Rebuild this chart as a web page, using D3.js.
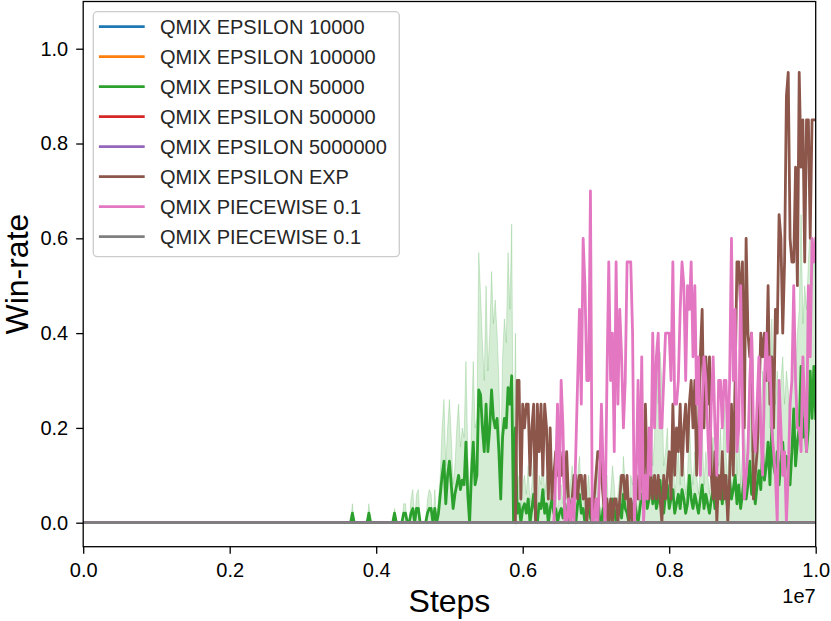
<!DOCTYPE html>
<html>
<head>
<meta charset="utf-8">
<script src="https://cdn.jsdelivr.net/npm/d3@7"></script>
<style>
  body { margin: 0; background: #fff; }
  text { font-family: "Liberation Sans", Arial, sans-serif; }
</style>
</head>
<body>
<svg class="chart" width="831" height="621"></svg>
<script>
const WIDTH = 831;
const HEIGHT = 621;
const PLOT_LEFT = 83.2;
const PLOT_RIGHT = 815.7;
const PLOT_TOP = 1.5;
const PLOT_BOTTOM = 546.7;
const LINE_WIDTH = 2.8;
const TICK_FONT_SIZE = "20px";
const LABEL_FONT_SIZE = "32px";

// test win-rate logged every 25000 steps
const STEP = 25000;

const seriesNames = [
  "QMIX EPSILON 10000",
  "QMIX EPSILON 100000",
  "QMIX EPSILON 50000",
  "QMIX EPSILON 500000",
  "QMIX EPSILON 5000000",
  "QMIX EPSILON EXP",
  "QMIX PIECEWISE 0.1",
  "QMIX PIECEWISE 0.1"
];
const seriesColors = ["#1f77b4", "#ff7f0e", "#2ca02c", "#d62728", "#9467bd", "#8c564b", "#e377c2", "#7f7f7f"];

const xTicks = [0, 2000000, 4000000, 6000000, 8000000, 10000000];
const yTicks = [0, 0.2, 0.4, 0.6, 0.8, 1.0];

// runs that never win
const flatSteps = [0, 10000000];
const flatWin = [0, 0];

// EPSILON 50000: mean and upper band
const eps50kStart = 3625000;
const eps50kMean = [
  0, 0, 0.02, 0, 0, 0, 0, 0, 0, 0,
  0, 0.02, 0, 0, 0, 0, 0, 0, 0, 0,
  0, 0, 0, 0, 0, 0.02, 0, 0, 0, 0,
  0.02, 0.02, 0, 0, 0.02, 0.03, 0, 0.03, 0.03, 0,
  0, 0, 0, 0.02, 0.03, 0.03, 0, 0.03, 0, 0.02,
  0.06, 0.1, 0.13, 0.04, 0.1, 0.13, 0.08, 0.03, 0.06, 0.08,
  0.1, 0.07, 0.09, 0.08, 0.17, 0.06, 0, 0.1, 0.17, 0.08,
  0.1, 0.28, 0.27, 0.2, 0.15, 0.25, 0.15, 0.2, 0.28, 0.22,
  0.2, 0.22, 0.15, 0.05, 0.18, 0.22, 0.2, 0.285, 0.25, 0.31,
  0, 0.2, 0.02, 0.04, 0, 0.03, 0.04, 0.02, 0.05, 0,
  0.03, 0.06, 0.02, 0, 0.04, 0.03, 0.07, 0.02, 0.04, 0, 0.03, 0.05, 0.02, 0.03, 0, 0.02,
  0.03, 0.01, 0.04, 0.02, 0, 0.03, 0.05, 0.02, 0, 0.04, 0.06, 0.02, 0.03, 0, 0.02, 0.04, 0.01, 0, 0.03, 0.02, 0.05, 0.01,
  0, 0.03, 0.02, 0.04, 0, 0.02, 0.05, 0.03, 0, 0.02, 0.04, 0.01, 0.06, 0.03, 0.02, 0, 0.04, 0.03, 0.05, 0.02, 0,
  0.03, 0.06, 0.04, 0.08, 0.03, 0.05, 0.1, 0.04, 0.07, 0.03, 0.05, 0.09, 0.04, 0.02, 0.06, 0.08, 0.03, 0.05, 0.07, 0.02, 0.04, 0.06,
  0.03, 0.07, 0.05, 0.02, 0.04, 0.1, 0.05, 0.03, 0.06, 0.04, 0.02, 0.05, 0.08, 0.03, 0.06, 0.04, 0.02, 0.05, 0.07, 0.03, 0.06, 0.05,
  0.08, 0.04, 0.1, 0.06, 0.03, 0.09, 0.05, 0.07, 0.1, 0.04, 0.08, 0.03, 0.06, 0.1, 0.05, 0.08, 0.13, 0.06, 0.09, 0.04, 0.08, 0.11,
  0.07, 0.15, 0.09, 0.12, 0.17, 0.08, 0.2, 0.12, 0.1, 0.15, 0.08, 0.13, 0.17, 0.1, 0.14, 0.12, 0.08, 0.15, 0.24, 0.12, 0.17,
  0.2, 0.33, 0.18, 0.22, 0.15, 0.2, 0.32, 0.22, 0.33, 0.22
];
const eps50kHigh = [
  0, 0, 0.04, 0, 0, 0, 0, 0, 0, 0,
  0, 0.04, 0, 0, 0, 0, 0, 0, 0, 0,
  0, 0, 0, 0, 0, 0.03, 0, 0, 0, 0,
  0.04, 0.04, 0, 0, 0.05, 0.07, 0, 0.06, 0.07, 0,
  0, 0, 0, 0.05, 0.07, 0.06, 0, 0.07, 0, 0.05,
  0.1, 0.2, 0.26, 0.12, 0.2, 0.26, 0.18, 0.08, 0.12, 0.2,
  0.25, 0.16, 0.2, 0.18, 0.34, 0.15, 0.05, 0.2, 0.34, 0.2,
  0.22, 0.57, 0.48, 0.38, 0.3, 0.5, 0.32, 0.4, 0.53, 0.42,
  0.47, 0.4, 0.3, 0.12, 0.35, 0.43, 0.38, 0.57, 0.45, 0.63,
  0.05, 0.4, 0.06, 0.1, 0.03, 0.08,
  0.1, 0.06, 0.12, 0.04, 0.08, 0.14, 0.06, 0.03, 0.1, 0.08, 0.15, 0.06, 0.1, 0.03, 0.08, 0.12, 0.06, 0.08, 0.02, 0.06,
  0.08, 0.04, 0.1, 0.06, 0.02, 0.08, 0.12, 0.06, 0.02, 0.1, 0.14, 0.06, 0.08, 0.02, 0.06, 0.1, 0.04, 0.02, 0.08, 0.06, 0.12, 0.04,
  0.02, 0.08, 0.06, 0.1, 0.02, 0.06, 0.12, 0.08, 0.02, 0.06, 0.1, 0.04, 0.14, 0.08, 0.06, 0.02, 0.1, 0.08, 0.12, 0.06, 0.02,
  0.08, 0.15, 0.1, 0.2, 0.1, 0.15, 0.22, 0.12, 0.18, 0.38, 0.25, 0.36, 0.3, 0.12, 0.15, 0.2, 0.08, 0.12, 0.18, 0.06, 0.1, 0.15,
  0.08, 0.18, 0.12, 0.06, 0.1, 0.22, 0.12, 0.08, 0.15, 0.1, 0.06, 0.12, 0.2, 0.08, 0.15, 0.1, 0.06, 0.12, 0.18, 0.08, 0.15, 0.12,
  0.2, 0.1, 0.25, 0.15, 0.08, 0.2, 0.12, 0.18, 0.25, 0.1, 0.2, 0.08, 0.15, 0.22, 0.12, 0.2, 0.3, 0.15, 0.22, 0.1, 0.18, 0.25,
  0.18, 0.32, 0.2, 0.28, 0.35, 0.2, 0.43, 0.3, 0.25, 0.32, 0.2, 0.3, 0.35, 0.25, 0.32, 0.28, 0.2, 0.33, 0.5, 0.3, 0.4,
  0.45, 0.65, 0.42, 0.5, 0.45, 0.55, 0.63, 0.5, 0.6, 0.5
];

// EPSILON EXP
const expStart = 5900000;
const expWin = [
  0, 0.3, 0.3, 0.05, 0.25, 0.2, 0.25, 0.25, 0.1, 0.2,
  0.25, 0, 0.25, 0.15, 0.25, 0.1, 0.25, 0.2, 0.05, 0.2,
  0.05, 0.1, 0.15, 0.1, 0.15, 0.1, 0.15, 0.05, 0.15, 0.05,
  0, 0.05, 0.1, 0.1, 0.05, 0.1, 0.1, 0.05, 0.1, 0,
  0.05, 0.05, 0, 0.05, 0.1, 0.15, 0.15, 0.1, 0.05, 0,
  0.05, 0, 0.05, 0, 0.05, 0.05, 0, 0.05, 0.1, 0.1,
  0.05, 0.1, 0, 0.05, 0, 0.05, 0.1, 0.05, 0.1, 0.1,
  0.05, 0.25, 0.1, 0.05, 0.1, 0.05, 0.1, 0.05, 0.1, 0.05,
  0, 0.1, 0.05, 0.1, 0.15, 0.05, 0.25, 0.1, 0.2, 0.15,
  0.25, 0.1, 0.2, 0.25, 0.15, 0.25, 0.3, 0.2, 0.3, 0.1,
  0.2, 0.35, 0.45, 0.2, 0.35, 0.25, 0.35, 0.1, 0.05, 0.15,
  0, 0.1, 0.05, 0.15, 0.05, 0.1, 0, 0.1, 0.25, 0.1,
  0.3, 0.55, 0.55, 0.45, 0.55, 0.2, 0.6, 0.4, 0.35, 0.4,
  0.05, 0.1, 0.15, 0.25, 0.4, 0.35, 0.4, 0.3, 0.5, 0.25,
  0.35, 0.2, 0.45, 0.4, 0.65, 0.6, 0.4, 0.55, 0.9, 0.95,
  0.6, 0.55, 0.55, 0.75, 0.5, 0.95, 0.75, 0.85, 0.55, 0.85,
  0.85, 0.6, 0.85, 0.85, 0.85
];

// first PIECEWISE 0.1 run
const pieceStart = 6425000;
const pieceWin = [
  0, 0.1, 0.25, 0.05, 0.3, 0.2, 0, 0, 0.05, 0,
  0.05, 0, 0.15, 0.3, 0.45, 0.25, 0.6, 0.5, 0.3, 0.3,
  0.7, 0, 0, 0.05, 0, 0.1, 0.25, 0.1, 0, 0.3,
  0.55, 0.3, 0.4, 0.15, 0.55, 0.25, 0.45, 0.35, 0.2, 0.3,
  0.55, 0.55, 0.55, 0.4, 0, 0.1, 0.3, 0.05, 0.35, 0,
  0.1, 0.05, 0.2, 0.1, 0.4, 0.2, 0.35, 0.4, 0.2, 0.2,
  0.3, 0.4, 0.4, 0.4, 0.3, 0.55, 0.25, 0.25, 0.3, 0.45,
  0.55, 0.5, 0.3, 0.5, 0.45, 0.55, 0.35, 0.5, 0.25, 0.35,
  0.1, 0.25, 0.35, 0.3, 0.2, 0.1, 0.25, 0.35, 0.2, 0.1,
  0.3, 0.3, 0.2, 0.3, 0.3, 0.15, 0.3, 0.6, 0.3, 0.45,
  0.15, 0.2, 0.5, 0.25, 0.05, 0.1, 0.15, 0.3, 0.4, 0.2,
  0.15, 0.25, 0.35, 0.2, 0.1, 0.3, 0.4, 0.3, 0.35, 0.2,
  0.15, 0.1, 0, 0.3, 0.2, 0.1, 0.15, 0, 0.1, 0.25,
  0.3, 0.5, 0.3, 0.2, 0.2, 0.15, 0.35, 0.25, 0.15, 0.5,
  0.35, 0.6, 0.55, 0.6
];

function evenRun(start, values) {
  return values.map(function(v, i) { return { step: start + i * STEP, win: v }; });
}

function listedRun(steps, values) {
  return values.map(function(v, i) { return { step: steps[i], win: v }; });
}

// one entry per legend line, in plotting order
var runs = [
  { points: listedRun(flatSteps, flatWin) },
  { points: listedRun(flatSteps, flatWin) },
  { points: evenRun(eps50kStart, eps50kMean), band: evenRun(eps50kStart, eps50kHigh) },
  { points: listedRun(flatSteps, flatWin) },
  { points: listedRun(flatSteps, flatWin) },
  { points: evenRun(expStart, expWin) },
  { points: evenRun(pieceStart, pieceWin) },
  { points: listedRun(flatSteps, flatWin) }
];

var chart = d3.select(".chart");

var x = d3.scaleLinear().domain([0, 10000000]).range([PLOT_LEFT, PLOT_RIGHT]);
var y = d3.scaleLinear().domain([-0.0506, 1.0996]).range([PLOT_BOTTOM, PLOT_TOP]);

chart.append("defs").append("clipPath")
     .attr("id", "plot-clip")
     .append("rect")
     .attr("x", PLOT_LEFT)
     .attr("y", PLOT_TOP)
     .attr("width", PLOT_RIGHT - PLOT_LEFT)
     .attr("height", PLOT_BOTTOM - PLOT_TOP);

var plot = chart.append("g").attr("clip-path", "url(#plot-clip)");

var line = d3.line()
             .x(function(d) { return x(d.step); })
             .y(function(d) { return y(d.win); });

var area = d3.area()
             .x(function(d) { return x(d.step); })
             .y0(y(0))
             .y1(function(d) { return y(d.win); });

runs.forEach(function(run, k) {
   if (run.band) {
      plot.append("path")
          .datum(run.band)
          .attr("d", area)
          .attr("fill", seriesColors[k])
          .attr("fill-opacity", 0.2)
          .attr("stroke", seriesColors[k])
          .attr("stroke-opacity", 0.2)
          .attr("stroke-width", 1);
   }
   plot.append("path")
       .datum(run.points)
       .attr("d", line)
       .attr("fill", "none")
       .attr("stroke", seriesColors[k])
       .attr("stroke-width", LINE_WIDTH)
       .attr("stroke-linejoin", "round")
       .attr("stroke-linecap", "square");
});

// Axes
var xAxis = chart.append("g")
     .attr("transform", "translate(0," + PLOT_BOTTOM + ")")
     .call(d3.axisBottom(x)
             .tickValues(xTicks)
             .tickFormat(function(d) { return (d / 10000000).toFixed(1); })
             .tickSize(7)
             .tickPadding(9));

var yAxis = chart.append("g")
     .attr("transform", "translate(" + PLOT_LEFT + ",0)")
     .call(d3.axisLeft(y)
             .tickValues(yTicks)
             .tickFormat(d3.format(".1f"))
             .tickSize(7)
             .tickPadding(8));

[xAxis, yAxis].forEach(function(axis) {
   axis.select(".domain").remove();
   axis.selectAll(".tick line").attr("stroke", "#000").attr("stroke-width", 1.3);
   axis.selectAll(".tick text")
       .attr("fill", "#000")
       .attr("font-size", TICK_FONT_SIZE)
       .attr("font-family", "Liberation Sans, Arial, sans-serif");
});

// Frame
chart.append("rect")
     .attr("x", PLOT_LEFT)
     .attr("y", PLOT_TOP)
     .attr("width", PLOT_RIGHT - PLOT_LEFT)
     .attr("height", PLOT_BOTTOM - PLOT_TOP)
     .attr("fill", "none")
     .attr("stroke", "#000")
     .attr("stroke-width", 1.3);

// Offset text and axis labels
chart.append("text")
     .attr("x", PLOT_RIGHT)
     .attr("y", 603)
     .attr("text-anchor", "end")
     .attr("font-size", TICK_FONT_SIZE)
     .text("1e7");

chart.append("text")
     .attr("x", (PLOT_LEFT + PLOT_RIGHT) / 2)
     .attr("y", 612)
     .attr("text-anchor", "middle")
     .attr("font-size", LABEL_FONT_SIZE)
     .text("Steps");

chart.append("text")
     .attr("transform", "translate(28," + ((PLOT_TOP + PLOT_BOTTOM) / 2) + ") rotate(-90)")
     .attr("text-anchor", "middle")
     .attr("font-size", LABEL_FONT_SIZE)
     .text("Win-rate");

// Legend
var legend = chart.append("g").attr("transform", "translate(93.3,11.7)");
legend.append("rect")
      .attr("width", 306)
      .attr("height", 245)
      .attr("rx", 4)
      .attr("fill", "#fff")
      .attr("fill-opacity", 0.8)
      .attr("stroke", "#cccccc")
      .attr("stroke-width", 1.3);

var entry = legend.selectAll("g.entry")
                  .data(seriesNames)
                  .enter().append("g")
                  .attr("class", "entry")
                  .attr("transform", function(d, i) { return "translate(0," + (15 + i * 30) + ")"; });
entry.append("line")
     .attr("x1", 7)
     .attr("x2", 50)
     .attr("stroke", function(d, i) { return seriesColors[i]; })
     .attr("stroke-width", LINE_WIDTH)
     .attr("stroke-linecap", "square");
entry.append("text")
     .attr("x", 66.7)
     .attr("dy", "0.35em")
     .attr("font-size", TICK_FONT_SIZE)
     .attr("fill", "#262626")
     .text(function(d) { return d; });
</script>
</body>
</html>
